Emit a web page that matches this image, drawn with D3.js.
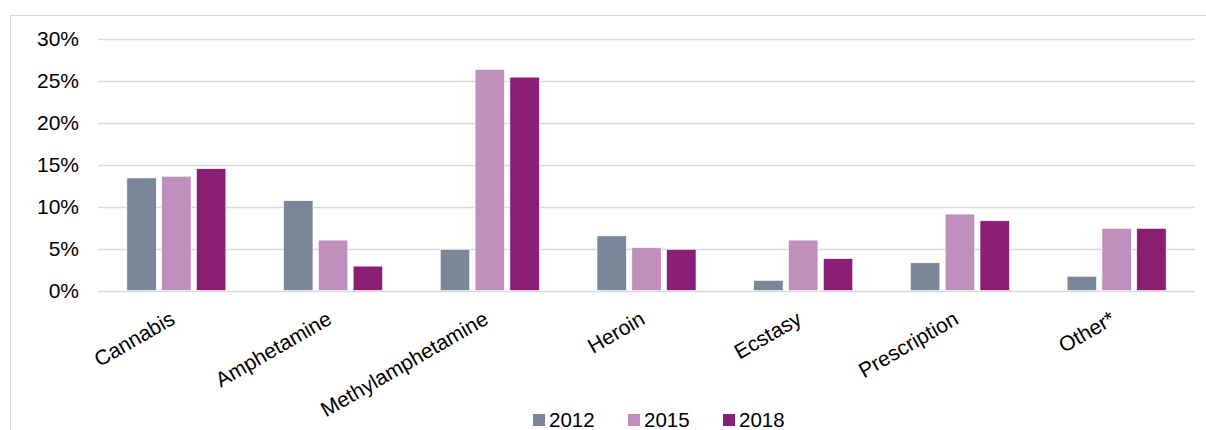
<!DOCTYPE html>
<html>
<head>
<meta charset="utf-8">
<script src="https://cdn.jsdelivr.net/npm/d3@7"></script>
<style>
  html, body { margin: 0; padding: 0; background: #fff; }
  svg { display: block; font-family: "Liberation Sans", Arial, sans-serif; }
</style>
</head>
<body>
<svg id="chart" width="1206" height="430"></svg>
<script>
// Drug types and share of respondents per survey year (%)
const categories = ["Cannabis", "Amphetamine", "Methylamphetamine", "Heroin", "Ecstasy", "Prescription", "Other*"];
const years = ["2012", "2015", "2018"];
const values2012 = [13.4, 10.7, 4.9, 6.5, 1.2, 3.3, 1.7];
const values2015 = [13.6, 6.0, 26.3, 5.1, 6.0, 9.1, 7.4];
const values2018 = [14.5, 2.9, 25.4, 4.9, 3.8, 8.3, 7.4];
const yTicks = [0, 5, 10, 15, 20, 25, 30];
const colors = ["#7a8799", "#bf8ebb", "#8a1e74"];

const series = [values2012, values2015, values2018];
const svg = d3.select("#chart");

// Chart frame
svg.append("path")
  .attr("d", "M10.5,440 V15.5 H1206")
  .attr("fill", "none")
  .attr("stroke", "#d9d9d9")
  .attr("stroke-width", 1);

const plot = { left: 98, right: 1195, top: 38.5, bottom: 290.5 };
const groupWidth = 99;

const x = d3.scaleBand().domain(categories).range([plot.left, plot.right]).paddingInner(0).paddingOuter(0);
const x1 = d3.scaleBand().domain(years).range([0, groupWidth]).paddingInner(0.155).paddingOuter(0);
const y = d3.scaleLinear().domain([0, 30]).range([plot.bottom, plot.top]);

// Horizontal gridlines
svg.append("g").selectAll("line").data(yTicks).join("line")
  .attr("x1", plot.left).attr("x2", plot.right)
  .attr("y1", d => Math.round(y(d)) + 0.5).attr("y2", d => Math.round(y(d)) + 0.5)
  .attr("stroke", "#d9d9d9").attr("stroke-width", 1.3);

// Y axis labels
const yAxis = d3.axisLeft(y).tickValues(yTicks).tickFormat(d => d + "%").tickSize(0).tickPadding(0);
const yg = svg.append("g").attr("transform", "translate(79,0)").call(yAxis);
yg.select(".domain").remove();
yg.selectAll("text").attr("font-size", 21).attr("fill", "#000")
  .attr("font-family", "Liberation Sans, Arial, sans-serif");

// Bars
const groups = svg.append("g").selectAll("g").data(categories).join("g")
  .attr("transform", d => `translate(${x(d) + (x.bandwidth() - groupWidth) / 2},0)`);

groups.selectAll("rect")
  .data((c, i) => years.map((yr, j) => ({ yr, v: series[j][i], j })))
  .join("rect")
  .attr("x", d => x1(d.yr))
  .attr("width", x1.bandwidth())
  .attr("y", d => y(d.v))
  .attr("height", d => y(0) - y(d.v))
  .attr("fill", d => colors[d.j])
  .attr("stroke", "#fff")
  .attr("stroke-width", 0.6);

// Category labels, rotated
svg.append("g").selectAll("text").data(categories).join("text")
  .attr("transform", d => `translate(${x(d) + x.bandwidth() / 2},323) rotate(-30)`)
  .attr("text-anchor", "end")
  .attr("font-size", 21)
  .attr("fill", "#000")
  .text(d => d);

// Legend
const legend = svg.append("g").selectAll("g").data(years).join("g")
  .attr("transform", (d, i) => `translate(${533 + i * 95},414)`);
legend.append("rect").attr("width", 12).attr("height", 12).attr("fill", (d, i) => colors[i]);
legend.append("text").attr("x", 16).attr("y", 13).attr("font-size", 20.5).attr("fill", "#000").text(d => d);
</script>
</body>
</html>
